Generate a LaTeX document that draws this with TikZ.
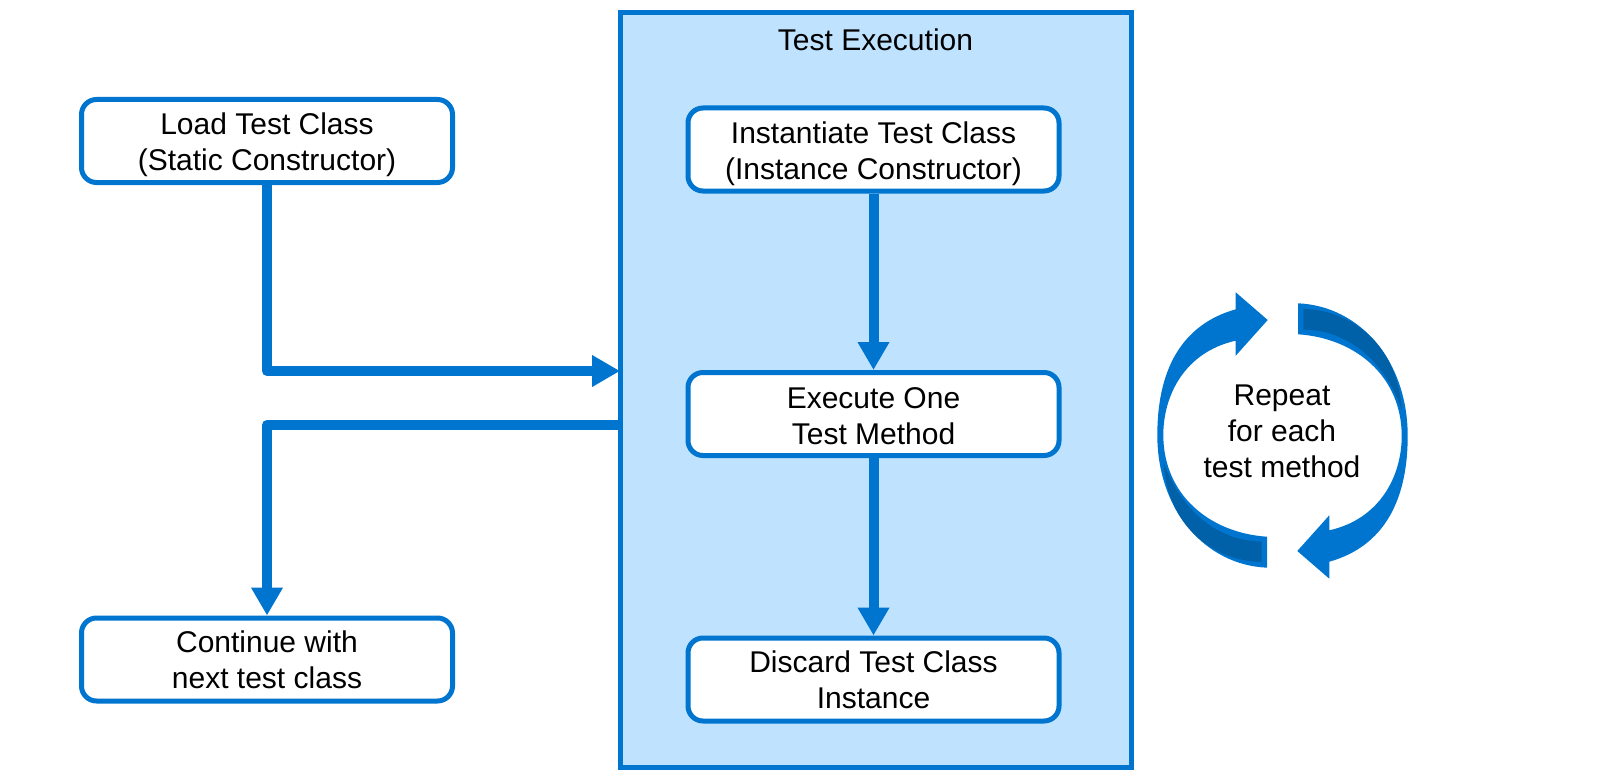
\documentclass[tikz,border=0pt]{standalone}
\usepackage{fontspec}
\setmainfont{Liberation Sans}
\usetikzlibrary{arrows.meta}
\definecolor{flowblue}{RGB}{0,117,207}
\definecolor{darkblue}{RGB}{0,96,168}
\definecolor{panelblue}{RGB}{191,227,255}
\tikzset{
  txt/.style={align=center,font=\fontsize{15}{18}\selectfont,text=black,inner sep=0pt},
  boxnode/.style={txt,draw=flowblue,fill=white,line width=2.5pt,rounded corners=7.5pt,minimum width=185.5pt,minimum height=41.5pt},
  panel/.style={draw=flowblue,fill=panelblue,line width=2.5pt,minimum width=255.25pt,minimum height=377.5pt,inner sep=0pt},
  flow/.style={draw=flowblue,line width=5pt,line join=round},
  flowtip/.style={flow,-{Triangle[length=14pt,width=15pt]}}
}
\begin{document}
\begin{tikzpicture}[x=0.5pt,y=-0.5pt]
\useasboundingbox (0,0) rectangle (1600,781);
\node[panel] (main) at (875.75,390) {};
\node[txt] (title) at (875.5,40) {Test Execution};
\node[boxnode] (load) at (267,141) {\rule{0pt}{15pt}Load Test Class\\(Static Constructor)};
\node[boxnode] (cont) at (267,659.5) {Continue with\\next test class};
\node[boxnode] (inst) at (873.5,149.5) {\rule{0pt}{15pt}Instantiate Test Class\\(Instance Constructor)};
\node[boxnode] (exec) at (873.5,414) {\rule{0pt}{12.4pt}Execute One\\Test Method};
\node[boxnode] (disc) at (873.5,679.5) {Discard Test Class\\Instance};
\coordinate (entry) at (620,371);
\coordinate (exit) at (620,425);
\draw[flowtip] (load.south) |- (entry);
\draw[flowtip] (exit) -| (cont.north);
\draw[flowtip] (inst.south) -- (exec.north);
\draw[flowtip] (exec.south) -- (disc.north);
\foreach \ang in {0,180}{
\begin{scope}[rotate around={\ang:(1282.5,435.5)}]
\fill[flowblue] (1267.7,320) -- (1235.7,292.3) -- (1235.7,309.3)
  .. controls (1180,325) and (1157.3,372) .. (1157.3,435)
  .. controls (1157.3,510) and (1205,565) .. (1267,567.7)
  -- (1267,536.7)
  .. controls (1210,533) and (1163.3,495) .. (1163.3,435)
  .. controls (1163.3,395) and (1185,352) .. (1235.7,340.7)
  -- (1235.7,355.7) -- cycle;
\fill[darkblue] (1163.5,462)
  .. controls (1167,525) and (1212,561) .. (1261.7,562)
  -- (1261.7,541.5)
  .. controls (1215,541) and (1180,508) .. (1163.5,462) -- cycle;
\end{scope}
}
\node[txt] (rep) at (1282,431) {Repeat\\for each\\test method};
\end{tikzpicture}
\end{document}
